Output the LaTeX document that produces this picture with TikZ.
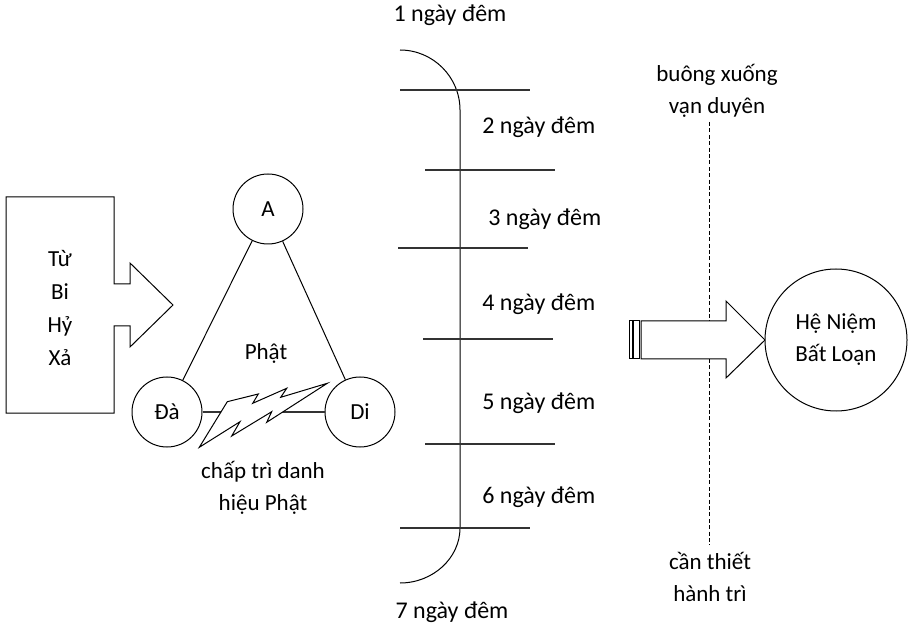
\documentclass[tikz,border=0pt]{standalone}
\usepackage{fontspec}
\setmainfont{Carlito}
\usetikzlibrary{positioning,calc}
\newcommand{\lblfont}{\fontsize{11.5}{16}\selectfont}
\tikzset{
  lbl/.style={font=\lblfont, align=center, inner sep=0pt},
  daylbl/.style={lbl, font=\fontsize{12}{16}\selectfont},
  ring/.style={circle, draw, line width=0.5pt, fill=white, minimum size=35pt, inner sep=0pt, font=\lblfont},
  tie/.style={line width=0.5pt},
  rung/.style={line width=0.6pt, black!80},
  cut/.style={line width=0.5pt, dash pattern=on 2pt off 1.2pt},
  fat/.style={draw, line width=0.5pt, fill=white, line join=miter},
}

\begin{document}
\begin{tikzpicture}[x=0.5pt, y=-0.5pt]
\useasboundingbox (0,0) rectangle (915,630);
%---- four virtues box with arrow
\draw[fat] (6,197) -- (114,197) -- (114,284) -- (130,284) -- (130,263) -- (173,305)
  -- (130,347) -- (130,326) -- (114,326) -- (114,413) -- (6,413) -- cycle;
\node[lbl, font=\fontsize{11.5}{16.5}\selectfont] (tubi) at (60,308) {Từ\\Bi\\Hỷ\\Xả};
%---- the triangle
\node[ring] (A) at (268,209) {A};
\node[ring] (Da) at (167,412) {Đà};
\node[ring] (Di) at (360,412) {Di};
\draw[tie] (A) -- (Da);
\draw[tie] (A) -- (Di);
\draw[tie, black!80] (Da) -- (Di);
\node[lbl] (phat) at (266,353) {Phật};
\draw[fat] (199.3,447.3) -- (227.3,401.7) -- (258.3,394) -- (252.7,403.3) -- (286.7,388.3)
  -- (280.7,397.3) -- (327.3,383.3) -- (266.7,422.3) -- (271.7,411.7) -- (231.7,436)
  -- (240,421.7) -- cycle;
\node[lbl] (chaptri) at (263,488) {chấp trì danh\\hiệu Phật};
%---- seven days and nights
\draw[tie] (400,50) .. controls (433,50) and (460,77) .. (460,110) -- (460,528)
  .. controls (460,558) and (433,583) .. (400,583);
\foreach \yy/\xa/\xb in {90/400/530, 170/425/555, 248/398/528, 339/423/553, 444/425/555, 528/400/530}
  \draw[rung] (\xa,\yy) -- (\xb,\yy);
\node[daylbl] (d1) at (450,15) {1 ngày đêm};
\node[daylbl, anchor=west] (d2) at (482,127) {2 ngày đêm};
\node[daylbl, anchor=west] (d3) at (488,219) {3 ngày đêm};
\node[daylbl, anchor=west] (d4) at (482,304) {4 ngày đêm};
\node[daylbl, anchor=west] (d5) at (482,403) {5 ngày đêm};
\node[daylbl, anchor=west] (d6) at (482,497) {6 ngày đêm};
\node[daylbl] (d7) at (452,612) {7 ngày đêm};
%---- letting go / needed practice
\node[lbl] (buong) at (717,91) {buông xuống\\vạn duyên};
\node[lbl] (can) at (710,577) {cần thiết\\hành trì};
\coordinate (cuttop) at (709,122);
\coordinate (cutbot) at (709,545);
\draw[cut] (cuttop) -- (cutbot);
%---- striped arrow to the result
\draw[fat] (629,321) rectangle (632,359);
\draw[fat] (633,321) rectangle (639,359);
\draw[fat] (641,321) -- (726,321) -- (726,301) -- (765,340) -- (726,378) -- (726,359) -- (641,359) -- cycle;
\node[ring, minimum size=71pt, align=center, font=\fontsize{11.5}{16}\selectfont] (henm) at (836,340) {Hệ Niệm\\Bất Loạn};
\end{tikzpicture}
\end{document}
